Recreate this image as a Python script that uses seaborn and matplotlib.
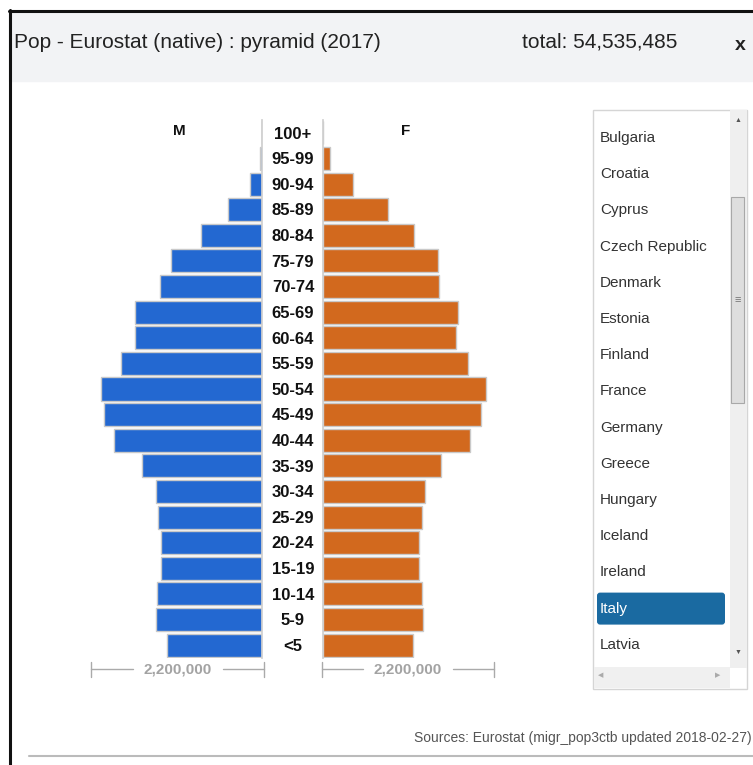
import matplotlib
matplotlib.use("Agg")
import matplotlib.pyplot as plt
import matplotlib.patches as mpatches
import seaborn as sns
import pandas as pd

# age groups, top to bottom
ages = ['100+', '95-99', '90-94', '85-89', '80-84', '75-79', '70-74', '65-69',
        '60-64', '55-59', '50-54', '45-49', '40-44', '35-39', '30-34', '25-29',
        '20-24', '15-19', '10-14', '5-9', '<5']
male = [0, 25000, 150000, 432000, 788000, 1170000, 1310000, 1628000,
        1640000, 1819000, 2073000, 2035000, 1908000, 1539000, 1361000, 1335000,
        1297000, 1297000, 1348000, 1361000, 1221000]
female = [0, 85000, 382000, 827000, 1170000, 1475000, 1488000, 1730000,
          1704000, 1857000, 2086000, 2022000, 1882000, 1513000, 1310000, 1272000,
          1234000, 1234000, 1272000, 1284000, 1157000]
scale_value = 2200000
countries = ['Bulgaria', 'Croatia', 'Cyprus', 'Czech Republic', 'Denmark', 'Estonia',
             'Finland', 'France', 'Germany', 'Greece', 'Hungary', 'Iceland',
             'Ireland', 'Italy', 'Latvia']
selected = 'Italy'

df = pd.DataFrame({'age': ages, 'M': male, 'F': female})

sns.set_theme(style="white")
plt.rcParams['font.family'] = ['Liberation Sans Narrow', 'Liberation Sans', 'DejaVu Sans']

W, H = 753, 765
fig = plt.figure(figsize=(W / 100, H / 100), dpi=100)


def box(x0, y0, x1, y1):
    # pixel box (top-left origin) -> figure fraction rect
    return [x0 / W, 1 - y1 / H, (x1 - x0) / W, (y1 - y0) / H]


def fx(x):
    return x / W


def fy(y):
    return 1 - y / H


# window frame and header
fig.add_artist(mpatches.Rectangle((fx(9), fy(81)), fx(760), fy(12) - fy(81),
                                  transform=fig.transFigure, color='#f2f3f5', zorder=0))
fig.add_artist(plt.Line2D([fx(10), fx(10)], [fy(10), fy(765)], color='#111111', lw=2.2,
                          transform=fig.transFigure))
fig.add_artist(plt.Line2D([fx(9), fx(753)], [fy(11), fy(11)], color='#111111', lw=2.2,
                          transform=fig.transFigure))
fig.add_artist(plt.Line2D([fx(29), fx(753)], [fy(756), fy(756)], color='#bbbbbb', lw=1.5,
                          transform=fig.transFigure))
fig.text(fx(14), fy(42), 'Pop - Eurostat (native) : pyramid (2017)', fontsize=15,
         color='#222222', va='center', ha='left')
fig.text(fx(522), fy(42), 'total: 54,535,485', fontsize=15, color='#222222',
         va='center', ha='left')
fig.text(fx(740), fy(45), 'x', fontsize=14, fontweight='bold', color='#222222',
         va='center', ha='center')

# pyramid axes
ax_m = fig.add_axes(box(91, 120, 262, 658))
ax_f = fig.add_axes(box(323, 120, 495, 658))

sns.barplot(data=df, x='M', y='age', orient='h', color='#2368d1', saturation=1,
            width=0.9, edgecolor='#c9c9c9', linewidth=1, ax=ax_m)
sns.barplot(data=df, x='F', y='age', orient='h', color='#d2691e', saturation=1,
            width=0.9, edgecolor='#c9c9c9', linewidth=1, ax=ax_f)

ax_m.set_xlim(scale_value, 0)
ax_f.set_xlim(0, scale_value)
for ax in (ax_m, ax_f):
    ax.set_xlabel('')
    ax.set_ylabel('')
    ax.set_xticks([])
    ax.set_yticks([])
    for s in ax.spines.values():
        s.set_visible(False)
    ax.patch.set_alpha(0)
ax_m.spines['right'].set_visible(True)
ax_m.spines['right'].set_color('#cfcfcf')
ax_f.spines['left'].set_visible(True)
ax_f.spines['left'].set_color('#cfcfcf')

trans = ax_f.get_yaxis_transform()
for i, a in enumerate(ages):
    ax_f.text(-30 / 172, i + 0.05, a, transform=trans, ha='center', va='center',
              fontsize=12, fontweight='bold', color='#111111')

fig.text(fx(179), fy(131), 'M', fontsize=11, fontweight='bold', ha='center', va='center',
         color='#111111')
fig.text(fx(406), fy(131), 'F', fontsize=11, fontweight='bold', ha='center', va='center',
         color='#111111')

# scale bars
label = f'{scale_value:,}'
for x0, x1 in ((91, 264), (322, 494)):
    xc = (x0 + x1) / 2
    y = fy(669)
    kw = dict(color='#aaaaaa', lw=1, transform=fig.transFigure)
    fig.add_artist(plt.Line2D([fx(x0), fx(xc - 45)], [y, y], **kw))
    fig.add_artist(plt.Line2D([fx(xc + 45), fx(x1)], [y, y], **kw))
    fig.add_artist(plt.Line2D([fx(x0), fx(x0)], [fy(662), fy(677)], **kw))
    fig.add_artist(plt.Line2D([fx(x1), fx(x1)], [fy(662), fy(677)], **kw))
    fig.text(fx(xc), y, label, fontsize=11, fontweight='bold', color='#a3a3a3',
             ha='center', va='center')

# country list box
fig.add_artist(mpatches.Rectangle((fx(593), fy(689)), fx(747) - fx(593), fy(110) - fy(689),
                                  transform=fig.transFigure, facecolor='white',
                                  edgecolor='#d5d5d5', lw=1))
fig.add_artist(mpatches.Rectangle((fx(730), fy(668)), fx(747) - fx(730), fy(110) - fy(668),
                                  transform=fig.transFigure, facecolor='#efefef',
                                  edgecolor='none'))
fig.add_artist(mpatches.FancyBboxPatch((fx(731), fy(403)), fx(744) - fx(731), fy(197) - fy(403),
                                       boxstyle='square,pad=0', transform=fig.transFigure,
                                       facecolor='#dedede', edgecolor='#a8a8a8', lw=0.8))
fig.text(fx(738), fy(300), '≡', fontsize=8, color='#777777', ha='center', va='center')
fig.text(fx(738), fy(121), '▲', fontsize=5, color='#555555', ha='center', va='center')
fig.text(fx(738), fy(652), '▼', fontsize=5, color='#555555', ha='center', va='center')
fig.add_artist(mpatches.Rectangle((fx(594), fy(688)), fx(730) - fx(594), fy(667) - fy(688),
                                  transform=fig.transFigure, facecolor='#f0f0f0',
                                  edgecolor='none'))
fig.text(fx(601), fy(676), '◀', fontsize=5, color='#aaaaaa', ha='center', va='center')
fig.text(fx(718), fy(676), '▶', fontsize=5, color='#aaaaaa', ha='center', va='center')

for i, c in enumerate(countries):
    y = 138 + i * 36.2
    color = '#333333'
    if c == selected:
        fig.add_artist(mpatches.FancyBboxPatch((fx(597), fy(y + 16)), fx(725) - fx(597),
                                               fy(y - 16) - fy(y + 16),
                                               boxstyle='round,pad=0,rounding_size=0.004',
                                               transform=fig.transFigure,
                                               facecolor='#1a6aa1', edgecolor='none'))
        color = 'white'
    fig.text(fx(600), fy(y), c, fontsize=11, color=color, ha='left', va='center')

fig.text(fx(752), fy(738), 'Sources: Eurostat (migr_pop3ctb updated 2018-02-27)',
         fontsize=10, color='#555555', ha='right', va='center')

fig.savefig('out.png', dpi=100)
